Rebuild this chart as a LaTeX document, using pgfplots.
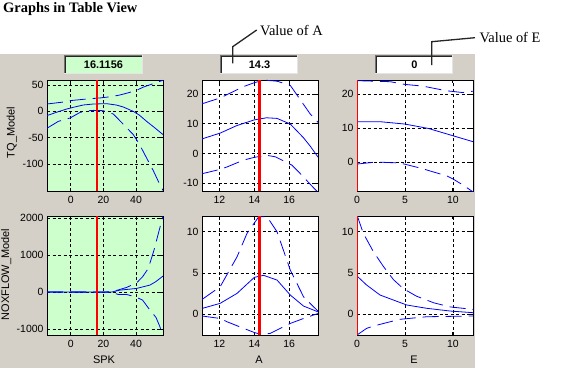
\documentclass[border=0pt]{standalone}
\usepackage{pgfplots}
\pgfplotsset{compat=1.18}
\usepackage{fontspec}
\setmainfont{Liberation Sans}
\newfontfamily\seriffont{Liberation Serif}

\definecolor{bggrey}{RGB}{212,208,200}
\definecolor{pgreen}{RGB}{204,255,204}
\definecolor{mblue}{RGB}{0,0,255}
\definecolor{mred}{RGB}{255,0,0}

\pgfplotsset{
  tv/.style={
    scale only axis, width=116bp, anchor=south west,
    enlargelimits=false,
    axis line style={black, line width=0.9bp},
    grid=major,
    major grid style={black, dash pattern=on 3bp off 2.5bp, line width=0.7bp},
    tick align=inside, major tick length=3bp,
    tick style={black, line width=0.8bp, solid},
    ticklabel style={font=\fontsize{10.5}{12}\selectfont, text=black},
    xticklabel style={yshift=-2bp},
    /pgf/number format/assume math mode=true,
    /pgf/number format/1000 sep={},
    scaled ticks=false,
    axis background/.style={fill=white},
  },
  mid/.style={mblue, line width=0.8bp, solid},
  ci/.style={mblue, line width=0.8bp, dash pattern=on 16bp off 7bp},
  cur/.style={mred, line width=2.7bp},
}

\begin{document}
\begin{tikzpicture}[x=1bp,y=1bp]
\useasboundingbox (0,0) rectangle (577,368);
\fill[white] (0,0) rectangle (577,368);
\fill[bggrey] (0,0) rectangle (475,314);

% title
\node[anchor=base west, inner sep=0, font=\seriffont\bfseries\fontsize{14.5}{16}\selectfont] at (3,356) {Graphs in Table View};

% value boxes
\fill[pgreen] (64,294) rectangle (143,313);
\fill[white] (220,294) rectangle (298,313);
\fill[white] (375,294) rectangle (453,313);
\foreach \a/\b in {64/143, 220/298, 375/453}{
  \draw[line width=1bp, black!55] (\a+0.5,294) -- (\a+0.5,312.5) -- (\b,312.5);
  \draw[line width=1bp, black!85] (\a+1.5,295) -- (\a+1.5,311.5) -- (\b-1,311.5);
  \draw[line width=1bp, white!90!black] (\a,294.5) -- (\b-0.5,294.5) -- (\b-0.5,313);
}
\node[font=\bfseries\fontsize{11}{12}\selectfont, inner sep=0] at (103.5,303.5) {16.1156};
\node[font=\bfseries\fontsize{11}{12}\selectfont, inner sep=0] at (259.5,303.5) {14.3};
\node[font=\bfseries\fontsize{11}{12}\selectfont, inner sep=0] at (414.5,303.5) {0};

% annotations
\draw[line width=1.3bp, black!85] (232.7,304.7) -- (232.7,321.3) -- (256.7,338);
\node[anchor=base west, inner sep=0, font=\seriffont\fontsize{14.5}{16}\selectfont] at (260,332.3) {Value of A};
\draw[line width=1.3bp, black!85] (431.7,303) -- (431.7,326.3) -- (475,330.3);
\node[anchor=base west, inner sep=0, font=\seriffont\fontsize{14.5}{16}\selectfont] at (479.3,325.7) {Value of E};

% axis labels
\node[rotate=90, anchor=base, inner sep=0, font=\fontsize{11}{12}\selectfont] at (14.5,235.5) {TQ\_Model};
\node[rotate=90, anchor=base, inner sep=0, font=\fontsize{11}{12}\selectfont] at (9,93.5) {NOXFLOW\_Model};
\node[anchor=base, inner sep=0, font=\fontsize{11}{12}\selectfont] at (104,5) {SPK};
\node[anchor=base, inner sep=0, font=\fontsize{11}{12}\selectfont] at (259,5) {A};
\node[anchor=base, inner sep=0, font=\fontsize{11}{12}\selectfont] at (414,5) {E};

% ---------------- Plot 1: TQ vs SPK
\begin{axis}[tv, at={(47bp,177bp)}, height=111bp,
  axis background/.style={fill=pgreen},
  xmin=-14.5, xmax=56.5, ymin=-151, ymax=59.5,
  xtick={0,20,40}, ytick={-100,-50,0,50}]
\addplot[mid] coordinates {(-14.5,-8) (-8,-1) (-2.4,4.5) (2,8) (7.7,12.1) (14,14) (22,14.6) (28,12) (32.2,8.3) (38.3,0) (42,-7) (46.5,-19) (51,-30) (56.5,-44)};
\addplot[ci] coordinates {(-14.5,14) (-5,17.5) (0,20.5) (10,23.5) (18,25.5) (25,28) (30,31) (35,35) (40.4,40) (44.4,46) (50,52) (56.5,59)};
\addplot[ci] coordinates {(-14.5,-32) (-7.6,-19) (-0.4,-12.6) (5.7,-2) (10,1) (13.8,1.9) (19.9,1.3) (26.1,-5) (29.1,-14.5) (33,-27) (38.3,-44) (42,-62) (46.5,-88.6) (50.5,-112) (54.6,-139) (56.5,-150)};
\addplot[cur] coordinates {(16.1156,-151) (16.1156,59.5)};
\end{axis}

% ---------------- Plot 2: TQ vs A
\begin{axis}[tv, at={(202bp,177bp)}, height=111bp,
  xmin=11, xmax=17.65, ymin=-12.6, ymax=24.7,
  xtick={12,14,16}, ytick={-10,0,10,20}]
\addplot[mid] coordinates {(11,4.9) (12.06,6.9) (13,9.4) (14,11.3) (14.7,12) (15.3,11.8) (16.06,9.9) (16.8,5.4) (17.2,2.5) (17.65,-1.2)};
\addplot[ci] coordinates {(11,16.7) (12.06,18.7) (12.44,19.8) (13.39,22.5) (14,23.8) (14.34,24.3) (14.7,24.6) (15.3,24.3) (16.06,22.9) (16.5,19.2) (17.2,13.3) (17.65,10.5)};
\addplot[ci] coordinates {(11,-6.8) (12.06,-5.3) (12.44,-4.5) (13.39,-2.2) (14,-1.3) (14.7,-0.6) (15.2,-1.1) (16.15,-3.9) (16.53,-6.1) (17.39,-11.5) (17.65,-13)};
\addplot[cur] coordinates {(14.3,-12.6) (14.3,24.7)};
\end{axis}

% ---------------- Plot 3: TQ vs E
\begin{axis}[tv, at={(357bp,177bp)}, height=111bp,
  xmin=0, xmax=12.1, ymin=-8.55, ymax=24.2,
  xtick={0,5,10}, ytick={0,10,20}]
\addplot[ci] coordinates {(0,24.0) (3.45,23.7) (5,22.9) (6.86,22.4) (9.37,21.0) (10.07,20.8) (11,20.5) (12.1,20.9)};
\addplot[mid] coordinates {(0,11.9) (2.4,11.9) (5,11.2) (7.45,9.9) (10.07,7.7) (12.1,6.0)};
\addplot[ci] coordinates {(0,-0.6) (2,0) (4.5,-0.3) (5.5,-1.0) (6.76,-1.9) (7.63,-2.65) (9.37,-4.1) (10.07,-5.1) (11,-6.7) (12.1,-8.8)};
\addplot[mred, line width=1.6bp] coordinates {(0,-8.55) (0,24.2)};
\end{axis}

% ---------------- Plot 4: NOXFLOW vs SPK
\begin{axis}[tv, at={(47bp,33bp)}, height=119bp,
  axis background/.style={fill=pgreen},
  xmin=-14.5, xmax=56.5, ymin=-1163, ymax=2062,
  xtick={0,20,40}, ytick={-1000,0,1000,2000}]
\addplot[mid] coordinates {(-14.5,0) (25,0) (30.2,54) (35,75) (40.4,100) (48.5,190) (52,280) (56.5,434)};
\addplot[ci] coordinates {(-14.5,0) (20,2) (25,10) (29.2,60) (34.2,126) (40.4,252) (44,415) (47.5,642) (51,1138) (54.2,1680) (56.5,2060)};
\addplot[ci] coordinates {(-14.5,0) (20,-2) (25,-10) (29.1,-63) (34.2,-63) (40.4,-144) (44,-217) (48.5,-488) (52.2,-686) (54.2,-894) (56.5,-1165)};
\addplot[cur] coordinates {(16.1156,-1163) (16.1156,2062)};
\end{axis}

% ---------------- Plot 5: NOXFLOW vs A
\begin{axis}[tv, at={(202bp,33bp)}, height=119bp,
  xmin=11, xmax=17.65, ymin=-2.5, ymax=11.9,
  xtick={12,14,16}, ytick={0,5,10}]
\addplot[mid] coordinates {(11.03,0.73) (12.04,1.33) (13.01,2.54) (14,4.48) (14.53,4.72) (15.3,4.15) (16.06,2.34) (16.82,1.0) (17.65,0.3)};
\addplot[ci] coordinates {(11,1.8) (12.04,3.34) (13.01,6.97) (13.58,9.8) (14.25,11.8) (14.73,11.8) (15.3,10.0) (16.06,5.36) (16.82,2.13) (17.4,0.9) (17.65,0.4)};
\addplot[ci] coordinates {(11,-0.2) (12.04,-0.5) (12.44,-0.9) (13.39,-1.7) (14,-2.2) (14.44,-2.45) (14.91,-2.3) (16.06,-1.1) (16.82,-0.5) (17.65,0.1)};
\addplot[cur] coordinates {(14.3,-2.5) (14.3,11.9)};
\end{axis}

% ---------------- Plot 6: NOXFLOW vs E
\begin{axis}[tv, at={(357bp,33bp)}, height=119bp,
  xmin=0, xmax=12.1, ymin=-2.5, ymax=11.9,
  xtick={0,5,10}, ytick={0,5,10}]
\addplot[ci] coordinates {(0,12) (0.66,9.8) (1.7,7.6) (2.75,5.8) (3.8,4.2) (4.84,3.1) (6.2,2.2) (8,1.4) (9.7,0.9) (12.1,0.6)};
\addplot[mid] coordinates {(0,4.64) (1,3.55) (2.4,2.34) (3.8,1.73) (5.19,1.13) (7.28,0.73) (9.72,0.4) (12.1,0.2)};
\addplot[ci] coordinates {(0,-2.5) (1,-1.7) (1.7,-1.42) (3.45,-0.9) (4.5,-0.6) (7.28,-0.29) (12.1,-0.2)};
\addplot[mred, line width=1.6bp] coordinates {(0,-2.5) (0,11.9)};
\end{axis}
\end{tikzpicture}
\end{document}
